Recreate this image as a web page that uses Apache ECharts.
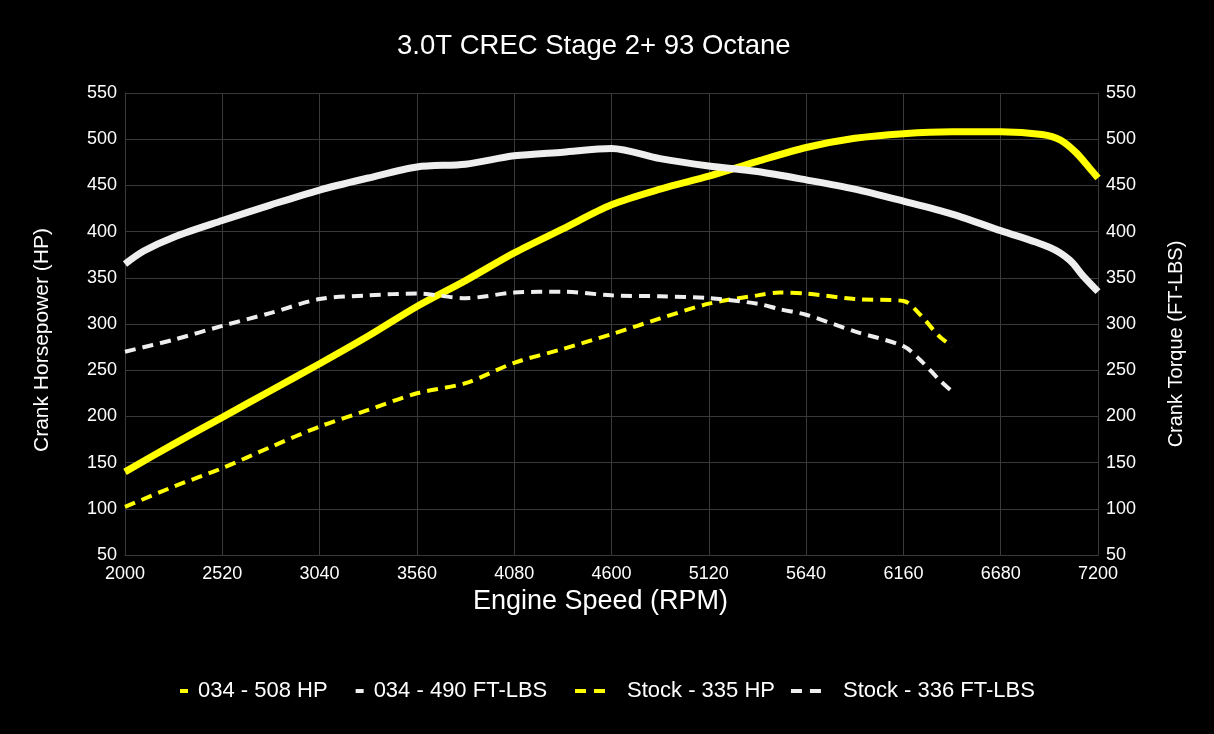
<!DOCTYPE html>
<html>
<head>
<meta charset="utf-8">
<script src="https://cdn.jsdelivr.net/npm/echarts@6/dist/echarts.min.js"></script>
<style>
  html, body { margin: 0; padding: 0; background: #000; }
  #chart { width: 1214px; height: 734px; }
</style>
</head>
<body>
<div id="chart"></div>
<script>
const hp034Rpm = [2000, 2260, 2520, 2780, 3040, 3300, 3560, 3820, 4080, 4340, 4600, 4860, 5120, 5380, 5640, 5900, 6160, 6420, 6680, 6900, 7000, 7080, 7150, 7200]
const hp034 = [140, 170, 199, 228, 257, 287, 319, 347, 377, 403, 429, 446, 460, 476, 491, 501, 506, 508, 508, 505, 499, 486, 470, 458]

const tq034Rpm = [2000, 2100, 2260, 2520, 2780, 3040, 3300, 3560, 3820, 4080, 4340, 4600, 4860, 5120, 5380, 5640, 5900, 6160, 6420, 6680, 6940, 7050, 7120, 7200]
const tq034 = [365, 379, 394, 412, 429, 445, 458, 470, 473, 482, 486, 490, 479, 471, 465, 456, 446, 433, 419, 401, 383, 369, 352, 335]

const stockRpm = [2000, 2260, 2520, 2780, 3040, 3300, 3560, 3820, 4080, 4340, 4600, 4860, 5120, 5380, 5500, 5640, 5900, 6160, 6250, 6350, 6420]
const hpStock = [102, 124, 144, 167, 189, 207, 225, 236, 258, 273, 289, 306, 322, 331, 334, 333, 327, 325, 310, 287, 276]
const tqStock = [270, 283, 298, 312, 327, 331, 333, 328, 334, 335, 331, 330, 328, 322, 316, 310, 292, 276, 261, 240, 227]

const seriesNames = ['034 - 508 HP', '034 - 490 FT-LBS', 'Stock - 335 HP', 'Stock - 336 FT-LBS']

const pairs = (xs, ys) => xs.map((x, i) => [x, ys[i]])

const YELLOW = '#ffff00'
const WHITE = '#eeeeee'
const GRID = '#3a3a3a'
const FONT = 'Arial, "Liberation Sans", sans-serif'

const chart = echarts.init(document.getElementById('chart'), null, { renderer: 'canvas' })

const yAxisBase = {
  type: 'value', min: 50, max: 550, interval: 50,
  axisLine: { show: true, lineStyle: { color: GRID, width: 1 } },
  axisTick: { show: false },
  axisLabel: { color: '#fff', fontSize: 18, fontFamily: FONT, margin: 8 },
  splitLine: { lineStyle: { color: GRID, width: 1 } },
  nameLocation: 'middle',
}

chart.setOption({
  backgroundColor: '#000',
  animation: false,
  title: {
    text: '3.0T CREC Stage 2+ 93 Octane',
    left: 392, top: 27,
    textStyle: { color: '#fff', fontSize: 27.5, fontWeight: 'normal', fontFamily: FONT },
  },
  grid: { left: 125, right: 116, top: 93, bottom: 179, containLabel: false },
  xAxis: {
    type: 'value', min: 2000, max: 7200, interval: 520,
    name: 'Engine Speed (RPM)', nameLocation: 'middle', nameGap: 27,
    nameTextStyle: { color: '#fff', fontSize: 27, fontFamily: FONT, padding: [0, 22, 0, 0] },
    axisLine: { show: true, lineStyle: { color: GRID } },
    axisTick: { show: false },
    axisLabel: { color: '#fff', fontSize: 18, fontFamily: FONT, margin: 10, formatter: (v) => String(v) },
    splitLine: { lineStyle: { color: GRID, width: 1 } },
  },
  yAxis: [
    Object.assign({}, yAxisBase, {
      name: 'Crank Horsepower (HP)', nameGap: 72,
      nameTextStyle: { color: '#fff', fontSize: 21, fontFamily: FONT, padding: [0, 32, 0, 0] },
    }),
    Object.assign({}, yAxisBase, {
      position: 'right',
      name: 'Crank Torque (FT-LBS)', nameGap: 68,
      nameTextStyle: { color: '#fff', fontSize: 20, fontFamily: FONT, padding: [0, 40, 0, 0] },
      splitLine: { show: false },
    }),
  ],
  legend: [
    {
      data: [seriesNames[0], seriesNames[1]],
      left: 175, top: 675, icon: 'rect', itemWidth: 8, itemHeight: 4, itemGap: 28,
      textStyle: { color: '#fff', fontSize: 22, fontFamily: FONT, padding: [0, 0, 0, 5] },
    },
    {
      data: [seriesNames[2], seriesNames[3]],
      left: 570, top: 675, icon: 'path://M0,0H11V4H0Z M19,0H30V4H19Z', itemWidth: 30, itemHeight: 4, itemGap: 16,
      textStyle: { color: '#fff', fontSize: 22, fontFamily: FONT, padding: [0, 0, 0, 17] },
    },
  ],
  series: [
    {
      name: seriesNames[0], type: 'line', smooth: 0.3, showSymbol: false, yAxisIndex: 0,
      data: pairs(hp034Rpm, hp034), color: YELLOW,
      lineStyle: { width: 7, color: YELLOW },
    },
    {
      name: seriesNames[1], type: 'line', smooth: 0.3, showSymbol: false, yAxisIndex: 1,
      data: pairs(tq034Rpm, tq034), color: WHITE,
      lineStyle: { width: 7, color: WHITE },
    },
    {
      name: seriesNames[2], type: 'line', smooth: 0.3, showSymbol: false, yAxisIndex: 0,
      data: pairs(stockRpm, hpStock), color: YELLOW,
      lineStyle: { width: 4, color: YELLOW, type: [11, 7] },
    },
    {
      name: seriesNames[3], type: 'line', smooth: 0.3, showSymbol: false, yAxisIndex: 1,
      data: pairs(stockRpm, tqStock), color: WHITE,
      lineStyle: { width: 4, color: WHITE, type: [11, 7] },
    },
  ],
})
</script>
</body>
</html>
